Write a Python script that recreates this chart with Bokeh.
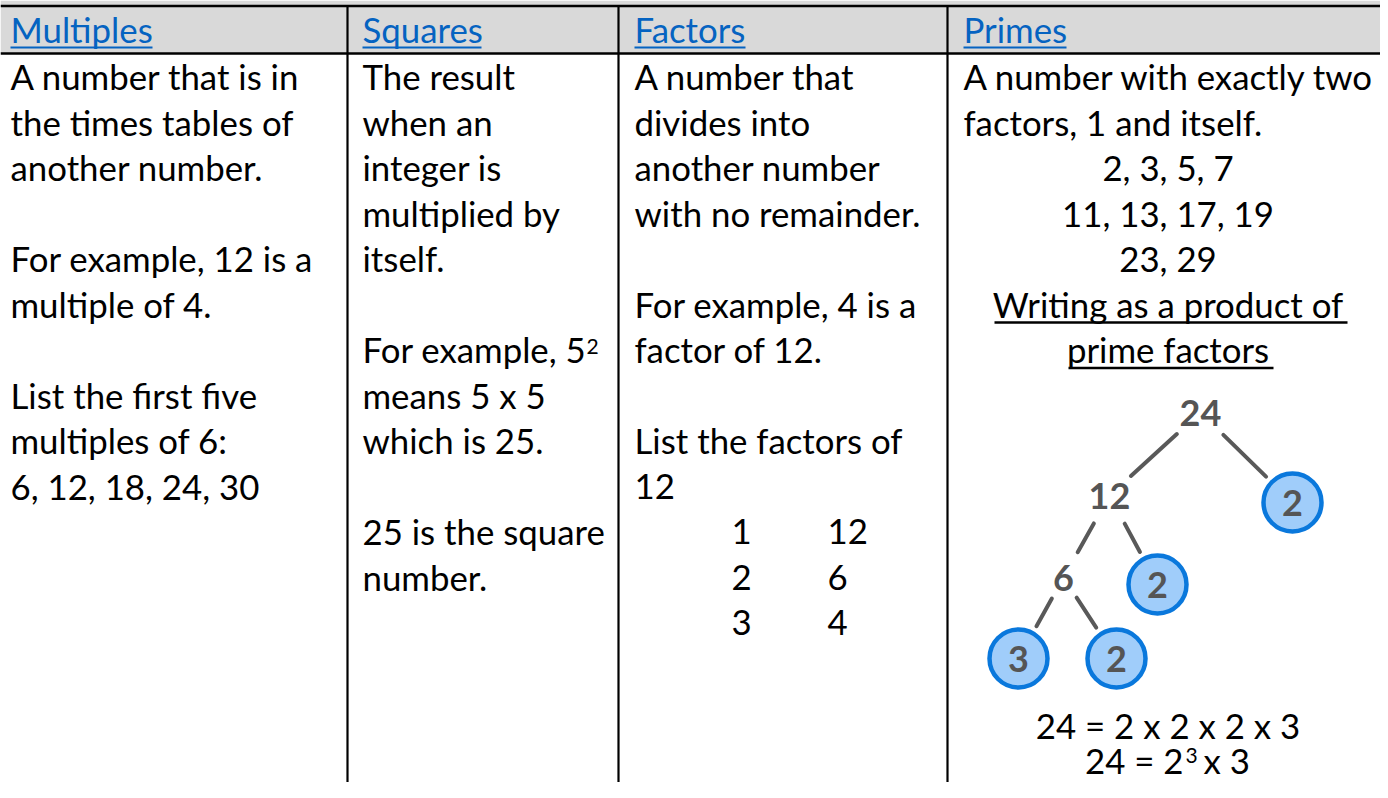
from bokeh.plotting import figure
from bokeh.models import Range1d, ColumnDataSource
from bokeh.core.properties import value
from bokeh.embed import file_html
from bokeh.resources import INLINE
import math

# ---------------- data ----------------
headers = ["Multiples", "Squares", "Factors", "Primes"]

multiples_lines = ["A number that is in", "the times tables of", "another number.", "",
                   "For example, 12 is a", "multiple of 4.", "",
                   "List the first five", "multiples of 6:", "6, 12, 18, 24, 30"]

squares_lines = ["The result", "when an", "integer is", "multiplied by", "itself.", "",
                 "For example, 5", "means 5 x 5", "which is 25.", "",
                 "25 is the square", "number."]
square_exponent = "2"

factors_lines = ["A number that", "divides into", "another number", "with no remainder.", "",
                 "For example, 4 is a", "factor of 12.", "",
                 "List the factors of", "12"]
factor_pairs_small = ["1", "2", "3"]
factor_pairs_large = ["12", "6", "4"]

primes_intro = ["A number with exactly two", "factors, 1 and itself."]
primes_list = ["2, 3, 5, 7", "11, 13, 17, 19", "23, 29"]
primes_heading = ["Writing as a product of", "prime factors"]

tree_labels = ["24", "12", "2", "6", "2", "3", "2"]
tree_is_prime = [False, False, True, False, True, True, True]
tree_parent = [None, 0, 0, 1, 1, 3, 3]

equation_full = "24 = 2 x 2 x 2 x 3"
equation_index = ["24 = 2", "3", "x 3"]

# ---------------- layout (reference pixel space) ----------------
W, H = 1380, 782

FONT = "Lato"
FS = 34.8          # body font size
SUP = 21
BASE0, STEP = 89.0, 45.5
COL_X = [10, 362, 634, 963]
DIVIDERS = [347, 618, 947]
CELL4_CENTER = (947 + 1388) / 2
BASELINE_FIX = 0.36   # bokeh places the "alphabetic" anchor this fraction of an em below the glyph baseline

tree_xy = [(1200, 412), (1109, 495), (1292, 502), (1063, 577), (1157, 584), (1018, 658), (1116, 658)]
R_CIRCLE = 31

p = figure(width=W, height=H, x_range=Range1d(0, W), y_range=Range1d(H, 0),
           output_backend="svg", toolbar_location=None, min_border=0,
           x_axis_type=None, y_axis_type=None)
p.grid.visible = False
p.outline_line_color = None
p.background_fill_color = "white"
p.border_fill_color = "white"


def txt(xs, ys, texts, size=FS, color="black", align="left", style="normal"):
    src = ColumnDataSource(dict(x=xs, y=[y - BASELINE_FIX * size for y in ys], text=texts))
    p.text(x="x", y="y", text="text", source=src, text_font=value(FONT),
           text_font_size=f"{size:.1f}px", text_color=color, text_align=align,
           text_baseline="alphabetic", text_font_style=style)


def baseline(i):
    return BASE0 + STEP * i


# header band
p.quad(left=[0], right=[W], top=[0], bottom=[53], fill_color="#D9D9D9", line_color=None)

# grid lines
p.segment(x0=[0, 0], y0=[5.5, 53], x1=[W, W], y1=[5.5, 53], line_color="black", line_width=2.6)
p.segment(x0=DIVIDERS, y0=[5.5] * 3, x1=DIVIDERS, y1=[H] * 3, line_color="black", line_width=2.2)

# headers (blue, underlined)
HEAD_BASE = 42
txt(COL_X, [HEAD_BASE] * 4, headers, color="#0563C1")
head_ends = [152, 481, 745, 1066]
p.segment(x0=COL_X, y0=[47] * 4, x1=head_ends, y1=[47] * 4, line_color="#0563C1", line_width=2.2)

# column bodies
for col, lines in zip(COL_X[:3], [multiples_lines, squares_lines, factors_lines]):
    idx = [i for i, t in enumerate(lines) if t]
    txt([col] * len(idx), [baseline(i) for i in idx], [lines[i] for i in idx])

# superscript in squares column
txt([586], [354], [square_exponent], size=SUP)

# factor pairs
rows = [10, 11, 12]
txt([731] * 3, [baseline(i) for i in rows], factor_pairs_small)
txt([827] * 3, [baseline(i) for i in rows], factor_pairs_large)

# primes column
txt([COL_X[3]] * 2, [baseline(0), baseline(1)], primes_intro)
txt([CELL4_CENTER] * 3, [baseline(i) for i in (2, 3, 4)], primes_list, align="center")
txt([CELL4_CENTER] * 2, [baseline(5), baseline(6)], primes_heading, align="center")
p.segment(x0=[994, 1068], y0=[baseline(5) + 5.5, baseline(6) + 5.5],
          x1=[1347, 1273], y1=[baseline(5) + 5.5, baseline(6) + 5.5],
          line_color="black", line_width=2.4)

# factor tree edges (computed from node centres)
ex0, ey0, ex1, ey1 = [], [], [], []
for c, par in enumerate(tree_parent):
    if par is None:
        continue
    (px_, py_), (cx, cy) = tree_xy[par], tree_xy[c]
    d = math.hypot(cx - px_, cy - py_)
    ux, uy = (cx - px_) / d, (cy - py_) / d
    g0 = 32 if len(tree_labels[par]) > 1 else 24
    g1 = 37 if tree_is_prime[c] else 29
    ex0.append(px_ + ux * g0); ey0.append(py_ + uy * g0)
    ex1.append(cx - ux * g1); ey1.append(cy - uy * g1)
p.segment(x0=ex0, y0=ey0, x1=ex1, y1=ey1, line_color="#595959", line_width=4, line_cap="round")

# prime circles
pcx = [tree_xy[i][0] for i in range(len(tree_labels)) if tree_is_prime[i]]
pcy = [tree_xy[i][1] for i in range(len(tree_labels)) if tree_is_prime[i]]
p.circle(x=pcx, y=pcy, radius=R_CIRCLE - 2, fill_color="#A0CDFA", line_color="#0A78DC", line_width=4.5)

# tree labels
TFS = 36
txt([xy[0] for xy in tree_xy], [xy[1] + 0.36 * TFS for xy in tree_xy], tree_labels,
    size=TFS, color="#555555", align="center", style="bold")

# equations (pulled up slightly so the last one fits inside the picture)
txt([CELL4_CENTER], [738], [equation_full], align="center")
txt([1183], [773], [equation_index[0]], align="right")
txt([1185], [763], [equation_index[1]], size=SUP)
txt([1203], [773], [equation_index[2]])

open("out.html", "w").write(file_html(p, INLINE))
